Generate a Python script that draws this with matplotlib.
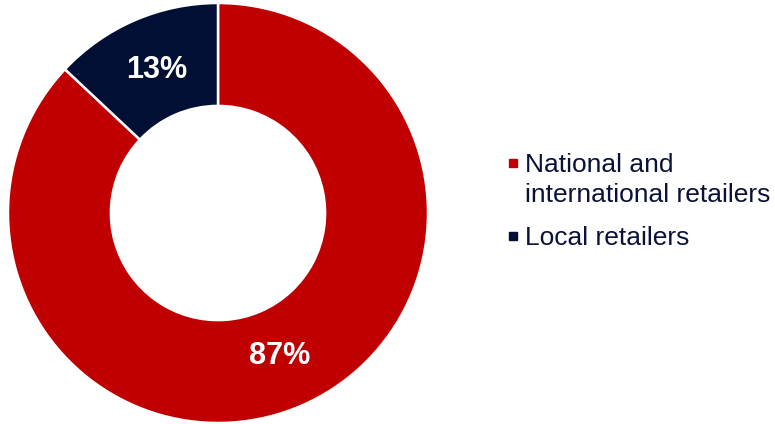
import matplotlib
matplotlib.use("Agg")
import matplotlib.pyplot as plt
from matplotlib.lines import Line2D

categories = ["National and\ninternational retailers", "Local retailers"]
values = [87, 13]
colors = ["#C00000", "#000F33"]

plt.rcParams['font.family'] = ['Liberation Sans', 'DejaVu Sans']

W, H = 775, 424
fig = plt.figure(figsize=(W/100, H/100), dpi=100)
ax = fig.add_axes([8/W, 1/H, 420/W, 420/H])

wedges, texts, autotexts = ax.pie(
    values, colors=colors, startangle=90, counterclock=False,
    radius=1.0, autopct=lambda p: f"{p:.0f}%", pctdistance=0.74,
    wedgeprops=dict(width=0.49, edgecolor="white", linewidth=1.8),
    textprops=dict(color="white", fontsize=22, fontweight="bold"))
ax.set_xlim(-1, 1)
ax.set_ylim(-1, 1)
ax.set_aspect("equal")
ax.axis("off")

# manual legend (marker aligned with first line of each label)
baseline = 172
line_h = 30
for cat, c in zip(categories, colors):
    lines = cat.split("\n")
    fig.add_artist(Line2D([513/W], [1 - (baseline - 9)/H], marker="s",
                          linestyle="none", markersize=5.5,
                          markerfacecolor=c, markeredgecolor=c,
                          transform=fig.transFigure))
    for k, ln in enumerate(lines):
        fig.text(525/W, 1 - (baseline + k*line_h)/H, ln, fontsize=19,
                 color="#0A1237", ha="left", va="baseline")
    baseline += len(lines)*line_h + 13

fig.savefig("out.png", dpi=100)
